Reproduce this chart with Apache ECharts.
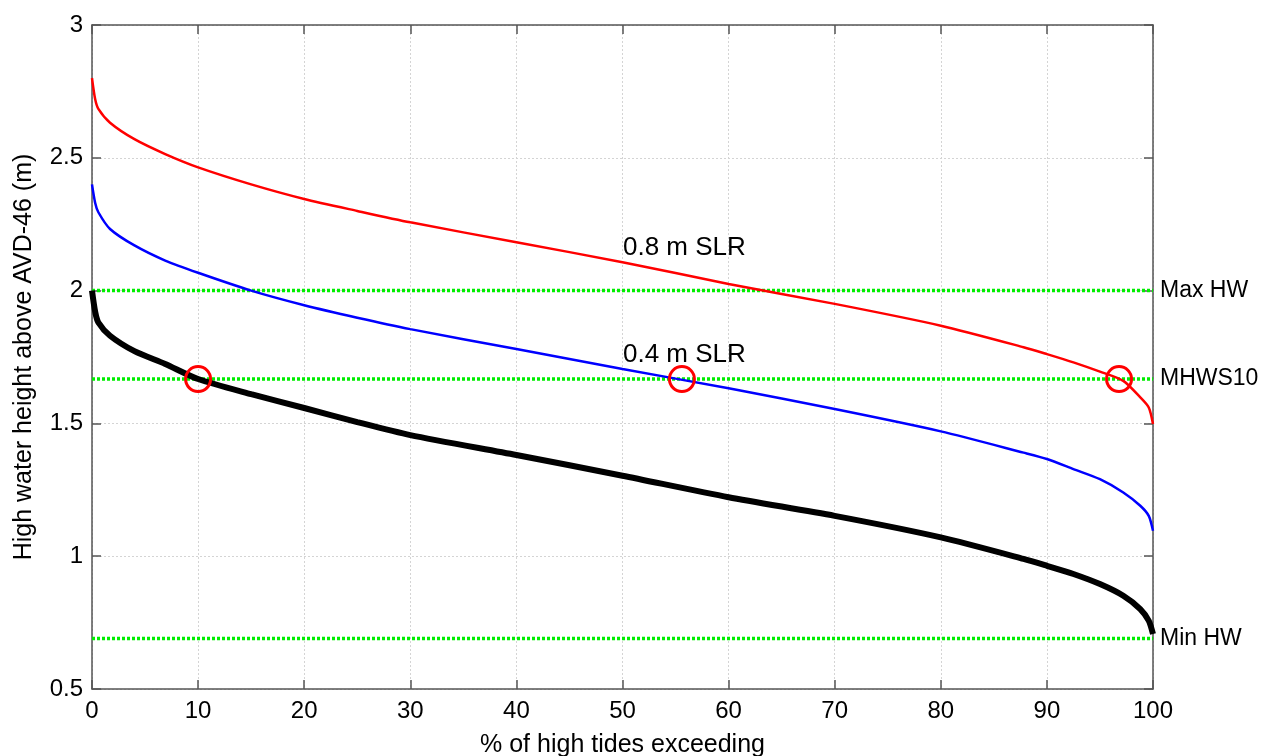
<!DOCTYPE html>
<html lang="en">
<head>
  <meta charset="UTF-8">
  <title>High water exceedance</title>
  <script src="https://cdn.jsdelivr.net/npm/echarts@6/dist/echarts.min.js"></script>
  <style>
    html, body { margin: 0; padding: 0; background: #fff; }
    #main { width: 1262px; height: 756px; }
  </style>
</head>
<body>

<div id="main"></div>

<script>
  // % of high tides exceeding
  var pct = [0, 0.3, 0.6, 1.7, 4, 6.9, 10, 15, 20, 25, 30, 40, 50, 60, 70, 80, 87.8, 90, 92.5, 95, 97.2, 98.8, 99.6, 100];
  // present day high water heights (m)
  var hwNow = [2.0, 1.92, 1.88, 1.83, 1.772, 1.724, 1.667, 1.61, 1.558, 1.505, 1.456, 1.381, 1.303, 1.222, 1.152, 1.071, 0.99, 0.964, 0.933, 0.895, 0.851, 0.801, 0.757, 0.707];
  // with 0.4 m sea level rise
  var hw04 = [2.40, 2.33, 2.295, 2.232, 2.17, 2.113, 2.067, 2.0, 1.945, 1.898, 1.855, 1.78, 1.705, 1.632, 1.554, 1.47, 1.39, 1.366, 1.328, 1.29, 1.24, 1.19, 1.152, 1.096];
  // with 0.8 m sea level rise
  var hw08 = [2.80, 2.72, 2.684, 2.632, 2.57, 2.514, 2.464, 2.40, 2.345, 2.30, 2.257, 2.182, 2.107, 2.025, 1.95, 1.868, 1.787, 1.761, 1.73, 1.695, 1.66, 1.598, 1.56, 1.498];

  // reference levels
  var refNames = ['Max HW', 'MHWS10', 'Min HW'];
  var refLevels = [2.0, 1.667, 0.69];

  // MHWS10 crossings
  var crossPct = [10, 55.6, 96.8];
  var crossLevel = 1.667;

  // curve labels
  var slrLabels = ['0.8 m SLR', '0.4 m SLR'];
  var slrLabelPos = [[50, 2.16], [50, 1.76]];

  function pairs(xs, ys) {
    var out = [];
    for (var i = 0; i < xs.length; i++) out.push([xs[i], ys[i]]);
    return out;
  }

  var font = 'Liberation Sans, Arial, sans-serif';
  var axisCol = '#555';

  var series = [];

  refLevels.forEach(function (lv, i) {
    series.push({
      type: 'line',
      data: [[0, lv], [100, lv]],
      symbol: 'none',
      silent: true,
      lineStyle: { color: '#00ee00', width: 3.5, type: [3, 2] },
      endLabel: {
        show: true, formatter: refNames[i], distance: 7,
        color: '#000', fontSize: 23, fontFamily: font
      },
      z: 3
    });
  });

  var curveCols = ['#ff0000', '#0000ff', '#000000'];
  var curveWidths = [2.5, 2.5, 6];
  [hw08, hw04, hwNow].forEach(function (arr, i) {
    series.push({
      type: 'line', data: pairs(pct, arr), symbol: 'none',
      smooth: 0.25,
      lineStyle: { color: curveCols[i], width: curveWidths[i] }, z: 4
    });
  });

  series.push({
    type: 'scatter',
    data: crossPct.map(function (p) { return [p, crossLevel]; }),
    symbol: 'circle', symbolSize: 25,
    itemStyle: { color: 'rgba(0,0,0,0)', borderColor: '#ff0000', borderWidth: 3, opacity: 1 },
    z: 5
  });

  series.push({
    type: 'scatter',
    data: slrLabelPos.map(function (p, i) { return { value: p, name: slrLabels[i] }; }),
    symbolSize: 1,
    itemStyle: { color: 'rgba(0,0,0,0)', opacity: 1 },
    label: {
      show: true, position: 'right', distance: 0, formatter: '{b}',
      color: '#000000', opacity: 1, textBorderWidth: 0,
      fontSize: 26, fontFamily: font
    },
    z: 6
  });

  var chart = echarts.init(document.getElementById('main'));
  chart.setOption({
    animation: false,
    backgroundColor: '#fff',
    grid: { left: 92, right: 109, top: 25, bottom: 67, outerBoundsMode: 'none', containLabel: false },
    xAxis: [{
      type: 'value', min: 0, max: 100, interval: 10,
      name: '% of high tides exceeding', nameLocation: 'middle', nameGap: 44,
      nameTextStyle: { fontSize: 25, color: '#000', fontFamily: font },
      axisLine: { show: true, onZero: false, lineStyle: { color: axisCol, width: 1.5 } },
      axisTick: { show: true, inside: true, length: 9, lineStyle: { color: axisCol, width: 1.5 } },
      axisLabel: { fontSize: 24, color: '#000', fontFamily: font, margin: 10 },
      splitLine: { show: true, lineStyle: { color: '#d4d4d4', type: [2, 2] } }
    }, {
      type: 'value', min: 0, max: 100, interval: 10, position: 'top',
      axisLine: { show: true, onZero: false, lineStyle: { color: axisCol, width: 1.5 } },
      axisTick: { show: true, inside: true, length: 9, lineStyle: { color: axisCol, width: 1.5 } },
      axisLabel: { show: false },
      splitLine: { show: false }
    }],
    yAxis: [{
      type: 'value', min: 0.5, max: 3, interval: 0.5,
      name: 'High water height above AVD-46 (m)', nameLocation: 'middle', nameGap: 55,
      nameTextStyle: { fontSize: 25, color: '#000', fontFamily: font },
      axisLine: { show: true, onZero: false, lineStyle: { color: axisCol, width: 1.5 } },
      axisTick: { show: true, inside: true, length: 9, lineStyle: { color: axisCol, width: 1.5 } },
      axisLabel: { fontSize: 24, color: '#000', fontFamily: font, margin: 9 },
      splitLine: { show: true, lineStyle: { color: '#d4d4d4', type: [2, 2] } }
    }, {
      type: 'value', min: 0.5, max: 3, interval: 0.5, position: 'right',
      axisLine: { show: true, onZero: false, lineStyle: { color: axisCol, width: 1.5 } },
      axisTick: { show: true, inside: true, length: 9, lineStyle: { color: axisCol, width: 1.5 } },
      axisLabel: { show: false },
      splitLine: { show: false }
    }],
    series: series
  });
</script>
</body>
</html>
